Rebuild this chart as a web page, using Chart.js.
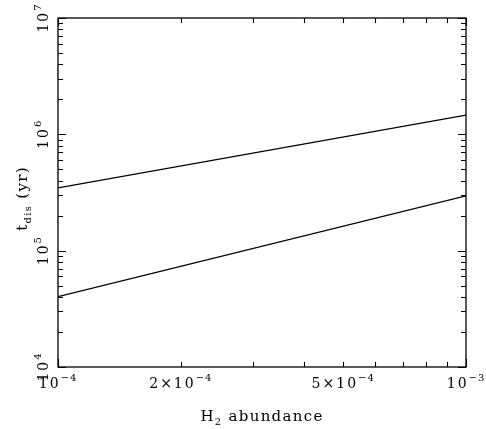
<!DOCTYPE html>
<html>
<head>
<meta charset="utf-8">
<script src="https://cdn.jsdelivr.net/npm/chart.js@4"></script>
<style>
html,body{margin:0;padding:0;background:#fff;}
canvas{display:block;}
</style>
</head>
<body>
<canvas id="c" width="486" height="429"></canvas>
<script>
// ---- data ----
const abundance = [1e-4, 1e-3];
const tdisUpper = [3.47e5, 1.46e6];
const tdisLower = [4.02e4, 2.96e5];
const xTickValues = [1e-4, 2e-4, 5e-4, 1e-3];
const xTickMantissa = ["", "2\u00d7", "5\u00d7", ""];
const xTickExponent = ["\u22124", "\u22124", "\u22124", "\u22123"];
const yTickValues = [1e4, 1e5, 1e6, 1e7];
const yTickExponent = ["4", "5", "6", "7"];
const xTitle = ["H", "2", " abundance"];
const yTitle = ["t", "dis", " (yr)"];

const FONT = '"DejaVu Serif", "Liberation Serif", serif';

// draw a sequence of runs {t, size, dy, sp} centred on x, baseline y
function drawRuns(ctx, runs, x, y) {
  let total = 0;
  const widths = runs.map(r => {
    ctx.font = r.size + 'px ' + FONT;
    let w = 0;
    for (const ch of r.t) w += ctx.measureText(ch).width + r.sp;
    total += w;
    return w;
  });
  let cx = x - total / 2;
  ctx.textAlign = 'left';
  ctx.textBaseline = 'alphabetic';
  runs.forEach((r, i) => {
    ctx.font = r.size + 'px ' + FONT;
    for (const ch of r.t) {
      ctx.fillText(ch, cx, y + r.dy);
      cx += ctx.measureText(ch).width + r.sp;
    }
  });
}

const axesPlugin = {
  id: 'pgaxes',
  afterDraw(chart) {
    const ctx = chart.ctx;
    const xs = chart.scales.x, ys = chart.scales.y;
    const a = chart.chartArea;
    ctx.save();
    ctx.strokeStyle = '#000';
    ctx.fillStyle = '#000';
    ctx.lineWidth = 1.3;
    ctx.strokeRect(a.left, a.top, a.right - a.left, a.bottom - a.top);
    ctx.lineWidth = 1.1;
    ctx.beginPath();
    // x ticks
    for (let m = 1; m <= 10; m++) {
      const v = m * 1e-4;
      const px = Math.round(xs.getPixelForValue(v)) + 0.5;
      const len = (m === 1 || m === 10) ? 8 : 5;
      ctx.moveTo(px, a.bottom); ctx.lineTo(px, a.bottom - len);
      ctx.moveTo(px, a.top); ctx.lineTo(px, a.top + len);
    }
    // y ticks
    for (let e = 4; e <= 6; e++) {
      for (let m = 1; m <= 10; m++) {
        const v = m * Math.pow(10, e);
        const py = Math.round(ys.getPixelForValue(v)) + 0.5;
        const len = (m === 1 || m === 10) ? 8 : 5;
        ctx.moveTo(a.left, py); ctx.lineTo(a.left + len, py);
        ctx.moveTo(a.right, py); ctx.lineTo(a.right - len, py);
      }
    }
    ctx.stroke();
    // x tick labels
    xTickValues.forEach((v, i) => {
      const px = xs.getPixelForValue(v);
      drawRuns(ctx, [
        { t: xTickMantissa[i] + '10', size: 14, dy: 0, sp: 2 },
        { t: xTickExponent[i], size: 10, dy: -7.5, sp: 1 }
      ], px, a.bottom + 21);
    });
    // y tick labels (rotated)
    yTickValues.forEach((v, i) => {
      const py = ys.getPixelForValue(v);
      ctx.save();
      ctx.translate(a.left - 10, py);
      ctx.rotate(-Math.PI / 2);
      drawRuns(ctx, [
        { t: '10', size: 14, dy: 0, sp: 2 },
        { t: yTickExponent[i], size: 10, dy: -7.5, sp: 1 }
      ], 0, 0);
      ctx.restore();
    });
    // titles
    drawRuns(ctx, [
      { t: xTitle[0], size: 15, dy: 0, sp: 1.3 },
      { t: xTitle[1], size: 10, dy: 4, sp: 1.3 },
      { t: xTitle[2], size: 15, dy: 0, sp: 1.3 }
    ], (a.left + a.right) / 2, 421);
    ctx.save();
    ctx.translate(27, (a.top + a.bottom) / 2 + 6);
    ctx.rotate(-Math.PI / 2);
    drawRuns(ctx, [
      { t: yTitle[0], size: 15, dy: 0, sp: 1.3 },
      { t: yTitle[1], size: 10, dy: 4, sp: 1.3 },
      { t: yTitle[2], size: 15, dy: 0, sp: 1.3 }
    ], 0, 0);
    ctx.restore();
    ctx.restore();
  }
};

new Chart(document.getElementById('c'), {
  type: 'scatter',
  data: {
    datasets: [
      { data: abundance.map((x, i) => ({ x: x, y: tdisUpper[i] })), showLine: true, borderColor: '#000', borderWidth: 1.2, pointRadius: 0, fill: false },
      { data: abundance.map((x, i) => ({ x: x, y: tdisLower[i] })), showLine: true, borderColor: '#000', borderWidth: 1.2, pointRadius: 0, fill: false }
    ]
  },
  options: {
    responsive: false,
    animation: false,
    layout: { padding: { left: 58, top: 18, right: 20, bottom: 62 } },
    plugins: { legend: { display: false }, tooltip: { enabled: false } },
    scales: {
      x: { type: 'logarithmic', min: 1e-4, max: 1e-3, display: false },
      y: { type: 'logarithmic', min: 1e4, max: 1e7, display: false }
    }
  },
  plugins: [axesPlugin]
});
</script>
</body>
</html>
